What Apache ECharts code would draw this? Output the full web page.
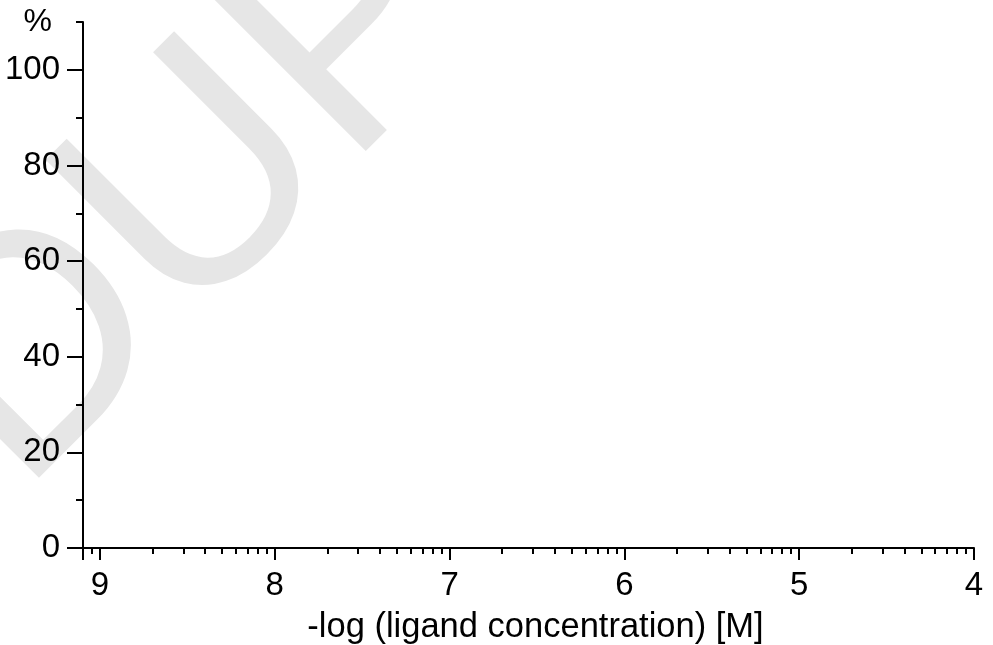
<!DOCTYPE html>
<html><head><meta charset="utf-8">
<script src="https://cdn.jsdelivr.net/npm/echarts@6/dist/echarts.min.js"></script>
<style>html,body{margin:0;padding:0;background:#fff}#c{width:993px;height:645px}</style>
</head><body><div id="c"></div>
<script>
// ---- chart content ----
const xMin = 4;
const xMax = 10 - Math.log10(8);          // left end of axis: -log(8e-10 M)
const xMajorTicks = [4, 5, 6, 7, 8, 9];
const xTickLabels = ['4', '5', '6', '7', '8', '9'];
const decadeMultipliers = [2, 3, 4, 5, 6, 7, 8, 9]; // log-spaced minor ticks inside each decade
const decadeStarts = [5, 6, 7, 8, 9, 10];
const yMin = 0, yMax = 110;
const yMajorTicks = [0, 20, 40, 60, 80, 100];
const yTickLabels = ['0', '20', '40', '60', '80', '100'];
const yMinorTicks = [10, 30, 50, 70, 90, 110];
const xTitle = '-log (ligand concentration) [M]';
const yTitle = '%';
const watermarkText = 'DUPLICATE';
const seriesData = []; // the plot contains no data marks

const xMinorTicks = [];
decadeStarts.forEach(n => decadeMultipliers.forEach(k => {
  const v = n - Math.log10(k);
  if (v >= xMin - 1e-9 && v < xMax - 1e-6) xMinorTicks.push(v);
}));
const xMajorTickPos = xMajorTicks.concat([xMax]);

const FONT = '"Liberation Sans", Arial, Helvetica, sans-serif';
const chart = echarts.init(document.getElementById('c'), null, {renderer: 'canvas'});
const axisLineStyle = {color: '#000', width: 2};

chart.setOption({
  animation: false,
  backgroundColor: '#fff',
  grid: {left: 83, right: 19, top: 22, bottom: 97, containLabel: false, outerBoundsMode: 'none'},
  graphic: [{
    type: 'text', silent: true, z: -10,
    x: -42, y: 434, rotation: Math.PI / 4,
    style: {text: watermarkText, fontSize: 320, fontFamily: FONT, fill: '#e6e6e6', align: 'left', verticalAlign: 'middle'}
  }],
  xAxis: [{
    type: 'value', position: 'bottom', inverse: true, min: xMin, max: xMax,
    axisLine: {show: true, onZero: false, lineStyle: axisLineStyle},
    axisTick: {show: true, length: 12, lineStyle: axisLineStyle, customValues: xMajorTickPos},
    axisLabel: {show: true, margin: 21, fontSize: 33, fontFamily: FONT, color: '#000',
      customValues: xMajorTicks, formatter: v => xTickLabels[xMajorTicks.indexOf(Math.round(v))]},
    splitLine: {show: false},
    name: xTitle, nameLocation: 'middle', nameGap: 62,
    nameTextStyle: {fontSize: 34.5, fontFamily: FONT, color: '#000', padding: [0, 0, 0, 14]}
  }, {
    type: 'value', position: 'bottom', inverse: true, min: xMin, max: xMax,
    axisLine: {show: false, onZero: false},
    axisTick: {show: true, length: 6, lineStyle: axisLineStyle, customValues: xMinorTicks},
    axisLabel: {show: false},
    splitLine: {show: false}
  }],
  yAxis: [{
    type: 'value', position: 'left', min: yMin, max: yMax,
    axisLine: {show: true, onZero: false, lineStyle: axisLineStyle},
    axisTick: {show: true, length: 16, lineStyle: axisLineStyle, customValues: yMajorTicks},
    axisLabel: {show: true, margin: 23, fontSize: 33, fontFamily: FONT, color: '#000',
      customValues: yMajorTicks, formatter: v => yTickLabels[yMajorTicks.indexOf(Math.round(v))]},
    splitLine: {show: false},
    name: yTitle, nameLocation: 'end', nameGap: 0,
    nameTextStyle: {fontSize: 32, fontFamily: FONT, color: '#000', align: 'right', verticalAlign: 'middle', padding: [0, 31, 0, 0]}
  }, {
    type: 'value', position: 'left', min: yMin, max: yMax,
    axisLine: {show: false, onZero: false},
    axisTick: {show: true, length: 7, lineStyle: axisLineStyle, customValues: yMinorTicks},
    axisLabel: {show: false},
    splitLine: {show: false}
  }],
  series: [{type: 'scatter', xAxisIndex: 0, yAxisIndex: 0, data: seriesData}]
});
</script>
</body></html>
